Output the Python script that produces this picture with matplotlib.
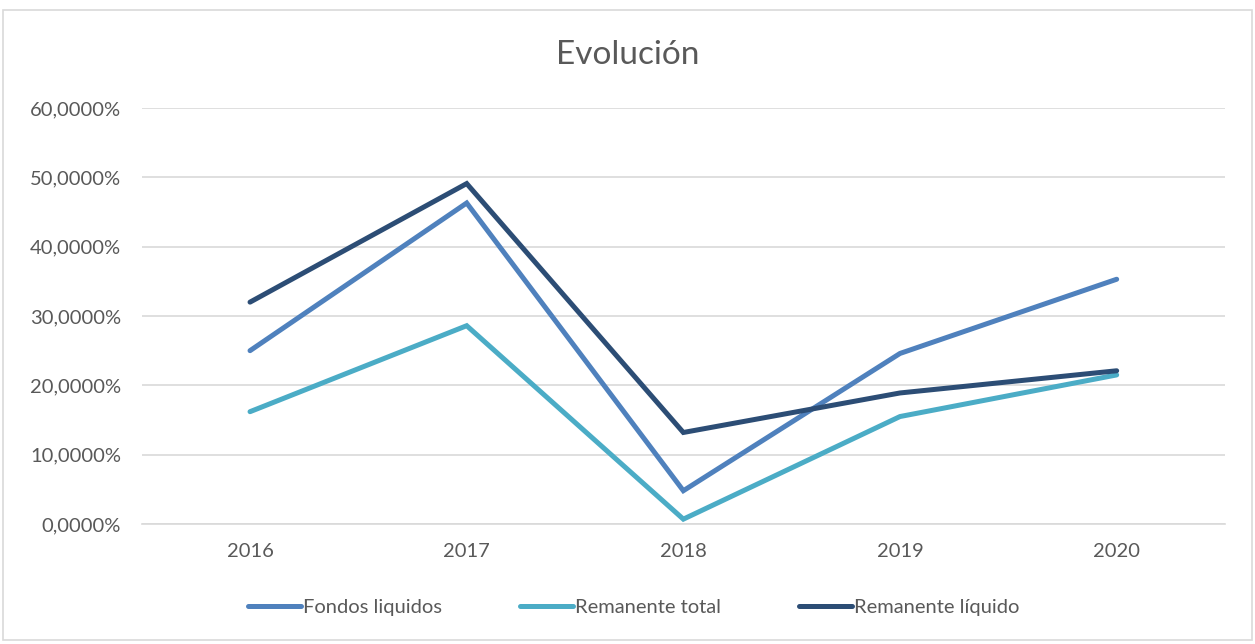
import matplotlib
matplotlib.use("Agg")
import matplotlib.pyplot as plt
from matplotlib.patches import Rectangle
from matplotlib.ticker import FuncFormatter

years = ["2016", "2017", "2018", "2019", "2020"]
fondos_liquidos = [25.0, 46.3, 4.8, 24.6, 35.3]
remanente_total = [16.2, 28.6, 0.7, 15.5, 21.5]
remanente_liquido = [32.0, 49.1, 13.2, 18.9, 22.1]
series_names = ["Fondos liquidos", "Remanente total", "Remanente líquido"]
y_ticks = [0, 10, 20, 30, 40, 50, 60]

colors = ["#4F81BD", "#4BACC6", "#2C4D75"]
text_color = "#595959"
grid_color = "#D9D9D9"

plt.rcParams["font.family"] = ["Lato", "DejaVu Sans"]

fig = plt.figure(figsize=(12.55, 6.44), dpi=100)
fig.patch.set_facecolor("white")

# outer chart frame
fig.patches.append(Rectangle((3 / 1255, 4 / 644), 1249 / 1255, 630 / 644,
                             transform=fig.transFigure, fill=False,
                             edgecolor="#D9D9D9", linewidth=1.2))

ax = fig.add_axes([141.7 / 1255, 1 - 524 / 644, (1225 - 141.7) / 1255, (524 - 108) / 644])

x = list(range(len(years)))
for vals, name, c in zip([fondos_liquidos, remanente_total, remanente_liquido], series_names, colors):
    ax.plot(x, vals, color=c, linewidth=3.6, solid_capstyle="round",
            solid_joinstyle="miter", label=name, zorder=3)

ax.set_xlim(-0.5, len(years) - 0.5)
ax.set_ylim(0, 60)
ax.set_yticks(y_ticks)
ax.yaxis.set_major_formatter(FuncFormatter(lambda v, p: f"{v:.4f}%".replace(".", ",")))
ax.set_xticks(x)
ax.set_xticklabels(years)

ax.grid(axis="y", color=grid_color, linewidth=1.2, zorder=0)
for s in ["top", "right", "left"]:
    ax.spines[s].set_visible(False)
ax.spines["bottom"].set_color(grid_color)
ax.spines["bottom"].set_linewidth(1.2)
ax.tick_params(axis="both", length=0, labelsize=14.5, labelcolor=text_color)
ax.tick_params(axis="x", pad=14)
ax.tick_params(axis="y", pad=15)

fig.text(0.5, 1 - 55 / 644, "Evolución", ha="center", va="center",
         fontsize=24, color=text_color)

leg = fig.legend(loc="center", bbox_to_anchor=(0.505, 1 - 607 / 644), ncol=3,
                 frameon=False, fontsize=14.5, handlelength=2.6, handletextpad=0.1,
                 columnspacing=3.9)
for t in leg.get_texts():
    t.set_color(text_color)

fig.savefig("out.png", dpi=100, facecolor="white")
